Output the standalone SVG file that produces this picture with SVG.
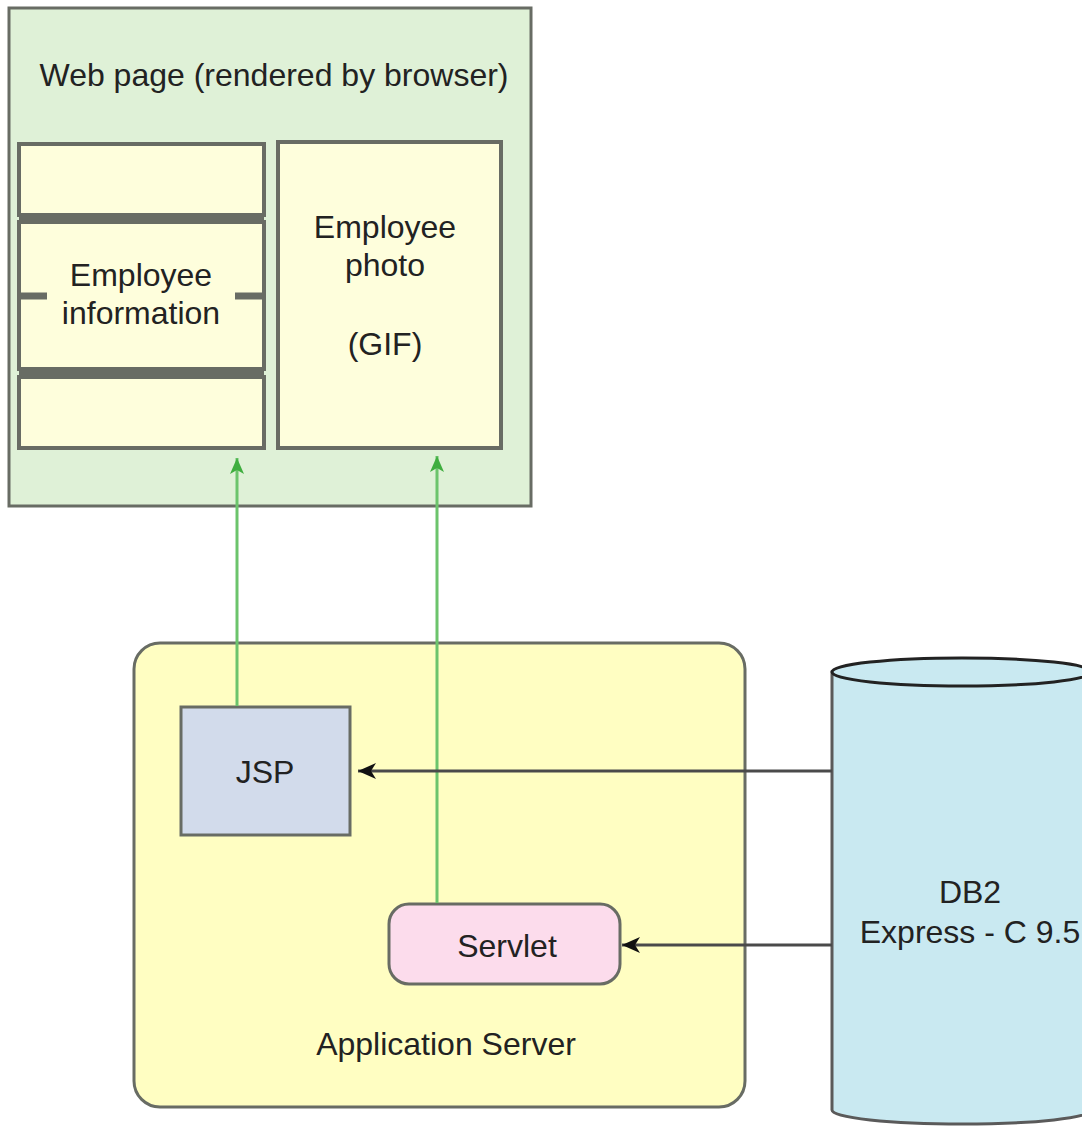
<svg xmlns="http://www.w3.org/2000/svg" width="1082" height="1126" viewBox="0 0 1082 1126">
  <style>
    .lbl { font-family: "Liberation Sans", Arial, sans-serif; font-size: 32px; fill: #222; text-anchor: middle; }
    .box { stroke: #686c64; stroke-width: 3; }
    .panel { fill: #fefedc; stroke: #686c64; stroke-width: 4; }
    .green { stroke: #6cc46c; stroke-width: 3; fill: none; }
    .dark { stroke: #4a4a4a; stroke-width: 3; fill: none; }
  </style>
  <defs>
    <marker id="arrowGreen" viewBox="0 0 16 14" refX="16" refY="7" markerWidth="16" markerHeight="14" markerUnits="userSpaceOnUse" orient="auto">
      <path d="M0,0 L16,7 L0,14 L4,7 Z" fill="#3fae3f"/>
    </marker>
    <marker id="arrowDark" viewBox="0 0 18 16" refX="18" refY="8" markerWidth="18" markerHeight="16" markerUnits="userSpaceOnUse" orient="auto">
      <path d="M0,0 L18,8 L0,16 L5,8 Z" fill="#111"/>
    </marker>
  </defs>

  <rect width="1082" height="1126" fill="#ffffff"/>

  <!-- Browser page -->
  <g id="webpage">
    <rect class="box" x="9" y="8" width="522" height="498" fill="#dff1d7"/>
    <text class="lbl" x="274" y="86">Web page (rendered by browser)</text>
  </g>

  <g id="employee-info">
    <rect class="panel" x="19" y="144" width="245" height="71"/>
    <rect class="panel" x="19" y="222" width="245" height="147"/>
    <rect class="panel" x="19" y="377" width="245" height="71"/>
    <rect x="19" y="214" width="245" height="9" fill="#686c64"/>
    <rect x="19" y="369" width="245" height="9" fill="#686c64"/>
    <line x1="19" y1="296" x2="47" y2="296" stroke="#686c64" stroke-width="7"/>
    <line x1="235" y1="296" x2="264" y2="296" stroke="#686c64" stroke-width="7"/>
    <text class="lbl" x="141" y="286">Employee</text>
    <text class="lbl" x="141" y="324">information</text>
  </g>

  <g id="employee-photo">
    <rect class="panel" x="278" y="142" width="223" height="306"/>
    <text class="lbl" x="385" y="238">Employee</text>
    <text class="lbl" x="385" y="276">photo</text>
    <text class="lbl" x="385" y="355">(GIF)</text>
  </g>

  <!-- Application server container -->
  <g id="app-server">
    <rect class="box" x="134" y="643" width="611" height="464" rx="26" fill="#fffec2"/>
    <text class="lbl" x="446" y="1055">Application Server</text>
  </g>

  <g id="jsp">
    <rect class="box" x="181" y="707" width="169" height="128" fill="#d2dbeb"/>
    <text class="lbl" x="265" y="783">JSP</text>
  </g>

  <g id="servlet">
    <rect class="box" x="389" y="904" width="231" height="80" rx="20" fill="#fcdcec"/>
    <text class="lbl" x="507" y="957">Servlet</text>
  </g>

  <!-- Database cylinder -->
  <g id="db2">
    <path d="M832,672 L832,1110 A130,14 0 0 0 1092,1110 L1092,672 Z" fill="#c9e9f1" stroke="#5a5a5a" stroke-width="3"/>
    <ellipse cx="962" cy="672" rx="130" ry="14" fill="#c9e9f1" stroke="#222" stroke-width="3"/>
    <text class="lbl" x="970" y="903">DB2</text>
    <text class="lbl" x="970" y="943">Express - C 9.5</text>
  </g>

  <!-- Connectors -->
  <g id="connectors">
    <line class="green" x1="237" y1="706" x2="237" y2="458" marker-end="url(#arrowGreen)"/>
    <line class="green" x1="437" y1="903" x2="437" y2="456" marker-end="url(#arrowGreen)"/>
    <line class="dark" x1="832" y1="771" x2="358" y2="771" marker-end="url(#arrowDark)"/>
    <line class="dark" x1="832" y1="945" x2="622" y2="945" marker-end="url(#arrowDark)"/>
  </g>
</svg>
